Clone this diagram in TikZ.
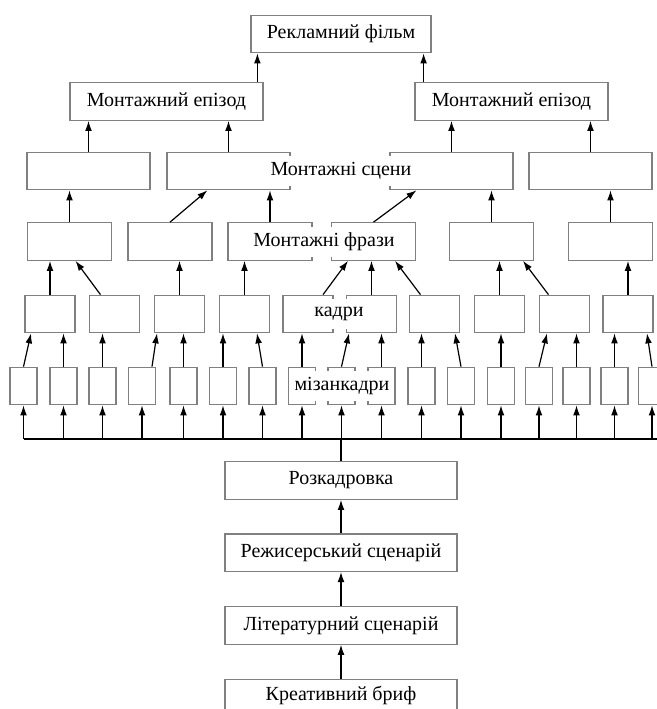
\documentclass[tikz,border=0pt]{standalone}
\usepackage{fontspec}
\setmainfont{Liberation Serif}
\usetikzlibrary{positioning}
\usetikzlibrary{arrows.meta}
\definecolor{boxgray}{gray}{.5}
\newcommand{\widthfilm}{90pt}
\newcommand{\widthepisode}{96.5pt}
\newcommand{\widthscene}{61.5pt}
\newcommand{\widthphrase}{42pt}
\newcommand{\widthshot}{25pt}
\newcommand{\widthmise}{13.5pt}
\newcommand{\widthdoc}{116pt}
\tikzset{
    common/.style={draw=boxgray, line width=0.6pt, rectangle, inner sep=0pt, fill=white, minimum height=18.75pt},
    filmbox/.style={common, minimum width=\widthfilm},
    episode/.style={common, minimum width=\widthepisode},
    scene/.style={common, minimum width=\widthscene},
    phrase/.style={common, minimum width=\widthphrase},
    shot/.style={common, minimum width=\widthshot},
    mise/.style={common, minimum width=\widthmise},
    docbox/.style={common, minimum width=\widthdoc},
    levelname/.style={fill=white, inner sep=1.5pt, minimum height=15pt},
    up/.style={-{Latex[length=5pt,width=3.4pt]}, line width=0.6pt},
}

\begin{document}
\begin{tikzpicture}[x=0.5pt, y=-0.5pt]
    \useasboundingbox (0,0) rectangle (657,709);

    \node[filmbox] (film) at (341,34) {Рекламний фільм};
    \node[episode] (ep1) at (166.5,101.5) {Монтажний епізод};
    \node[episode] (ep2) at (511.5,101.5) {Монтажний епізод};

    \path
        (88.5,171) node[scene] (s1) {}
        (228.5,171) node[scene] (s2) {}
        (451.5,171) node[scene] (s3) {}
        (590.5,171) node[scene] (s4) {};
    \node[levelname] (scenes) at (341,171) {Монтажні сцени};

    \path
        (69.5,241.5) node[phrase] (p1) {}
        (170,241.5) node[phrase] (p2) {}
        (270,241.5) node[phrase] (p3) {}
        (373.5,241.5) node[phrase] (p4) {}
        (491.5,241.5) node[phrase] (p5) {}
        (610.5,241.5) node[phrase] (p6) {};
    \node[levelname] (phrases) at (324,241.5) {Монтажні фрази};

    \path
        (50,314) node[shot] (f1) {}
        (114.5,314) node[shot] (f2) {}
        (179.5,314) node[shot] (f3) {}
        (244.5,314) node[shot] (f4) {}
        (308,314) node[shot] (f5) {}
        (371.5,314) node[shot] (f6) {}
        (434.5,314) node[shot] (f7) {}
        (499.5,314) node[shot] (f8) {}
        (564.5,314) node[shot] (f9) {}
        (628,314) node[shot] (f10) {};
    \node[levelname] (shots) at (339,314) {кадри};

    \path
        (23.5,386) node[mise] (m1) {}
        (63.5,386) node[mise] (m2) {}
        (102.5,386) node[mise] (m3) {}
        (142,386) node[mise] (m4) {}
        (183.5,386) node[mise] (m5) {}
        (223,386) node[mise] (m6) {}
        (262.5,386) node[mise] (m7) {}
        (302,386) node[mise] (m8) {}
        (341.5,386) node[mise] (m9) {}
        (381.5,386) node[mise] (m10) {}
        (421.5,386) node[mise] (m11) {}
        (461,386) node[mise] (m12) {}
        (501,386) node[mise] (m13) {}
        (539,386) node[mise] (m14) {}
        (576.5,386) node[mise] (m15) {}
        (614.5,386) node[mise] (m16) {}
        (652,386) node[mise] (m17) {};
    \node[levelname] (mises) at (342,386) {мізанкадри};

    \coordinate (bus) at (0,439);

    \node[docbox] (rozk) at (341,480.5) {Розкадровка};
    \node[docbox, below=16.75pt of rozk] (rezh) {Режисерський сценарій};
    \node[docbox, below=17pt of rezh] (lit) {Літературний сценарій};
    \node[docbox, below=17pt of lit, minimum height=16.5pt] (brief) {Креативний бриф};

    % up to the film
    \draw[up] ([xshift=3.5pt]film.south west |- ep1.north) -- ([xshift=3.5pt]film.south west);
    \draw[up] ([xshift=-4pt]film.south east |- ep2.north) -- ([xshift=-4pt]film.south east);

    % scenes -> episodes
    \draw[up] (s1) -- (s1 |- ep1.south);
    \draw[up] (s2) -- (s2 |- ep1.south);
    \draw[up] (s3) -- (s3 |- ep2.south);
    \draw[up] (s4) -- (s4 |- ep2.south);

    % phrases -> scenes
    \draw[up] (p1) -- (p1 |- s1.south);
    \draw[up] (p2.north) -- ([xshift=20.5pt]s2.south west);
    \draw[up] (p3) -- (p3 |- s2.south);
    \draw[up] (p4.north) -- ([xshift=13.5pt]s3.south west);
    \draw[up] (p5) -- (p5 |- s3.south);
    \draw[up] (p6) -- (p6 |- s4.south);

    % shots -> phrases
    \draw[up] (f1) -- (f1 |- p1.south);
    \draw[up] ([xshift=-7pt]f2.north) -- ([xshift=3pt]p1.south);
    \draw[up] (f3) -- (f3 |- p2.south);
    \draw[up] (f4) -- (f4 |- p3.south);
    \draw[up] ([xshift=7.5pt]f5.north) -- ([xshift=-12.75pt]p4.south);
    \draw[up] (f6) -- (f6 |- p4.south);
    \draw[up] ([xshift=-7pt]f7.north) -- ([xshift=10.75pt]p4.south);
    \draw[up] (f8) -- (f8 |- p5.south);
    \draw[up] ([xshift=-8pt]f9.north) -- ([xshift=15.75pt]p5.south);
    \draw[up] (f10) -- (f10 |- p6.south);

    % mises -> shots
    \draw[up] (m1.north) -- ([xshift=-9.5pt]f1.south);
    \draw[up] (m2) -- (m2 |- f1.south);
    \draw[up] (m3) -- (m3 |- f2.south);
    \draw[up] ([xshift=5pt]m4.north) -- ([xshift=-11.25pt]f3.south);
    \draw[up] (m5) -- (m5 |- f3.south);
    \draw[up] (m6) -- (m6 |- f4.south);
    \draw[up] (m7.north) -- ([xshift=6.25pt]f4.south);
    \draw[up] (m8) -- (m8 |- f5.south);
    \draw[up] (m9.north) -- ([xshift=-11.25pt]f6.south);
    \draw[up] (m10) -- (m10 |- f6.south);
    \draw[up] (m11) -- (m11 |- f7.south);
    \draw[up] (m12.north) -- ([xshift=10.25pt]f7.south);
    \draw[up] (m13) -- (m13 |- f8.south);
    \draw[up] (m14.north) -- ([xshift=-8.75pt]f9.south);
    \draw[up] (m15) -- (m15 |- f9.south);
    \draw[up] (m16) -- (m16 |- f10.south);
    \draw[up] (m17.north) -- ([xshift=9.5pt]f10.south);

    % storyboard bus
    \draw[line width=0.8pt] (m1 |- bus) -- ([xshift=3pt]m17 |- bus);
    \draw[line width=0.6pt] (rozk) -- (rozk |- bus);
    \draw[up] (m1 |- bus) -- (m1);
    \draw[up] (m2 |- bus) -- (m2);
    \draw[up] (m3 |- bus) -- (m3);
    \draw[up] (m4 |- bus) -- (m4);
    \draw[up] (m5 |- bus) -- (m5);
    \draw[up] (m6 |- bus) -- (m6);
    \draw[up] (m7 |- bus) -- (m7);
    \draw[up] (m8 |- bus) -- (m8);
    \draw[up] (m9 |- bus) -- (m9);
    \draw[up] (m10 |- bus) -- (m10);
    \draw[up] (m11 |- bus) -- (m11);
    \draw[up] (m12 |- bus) -- (m12);
    \draw[up] (m13 |- bus) -- (m13);
    \draw[up] (m14 |- bus) -- (m14);
    \draw[up] (m15 |- bus) -- (m15);
    \draw[up] (m16 |- bus) -- (m16);
    \draw[up] (m17 |- bus) -- (m17);

    % documents
    \draw[up] (rezh) -- (rozk);
    \draw[up] (lit) -- (rezh);
    \draw[up] (brief) -- (lit);
\end{tikzpicture}
\end{document}
